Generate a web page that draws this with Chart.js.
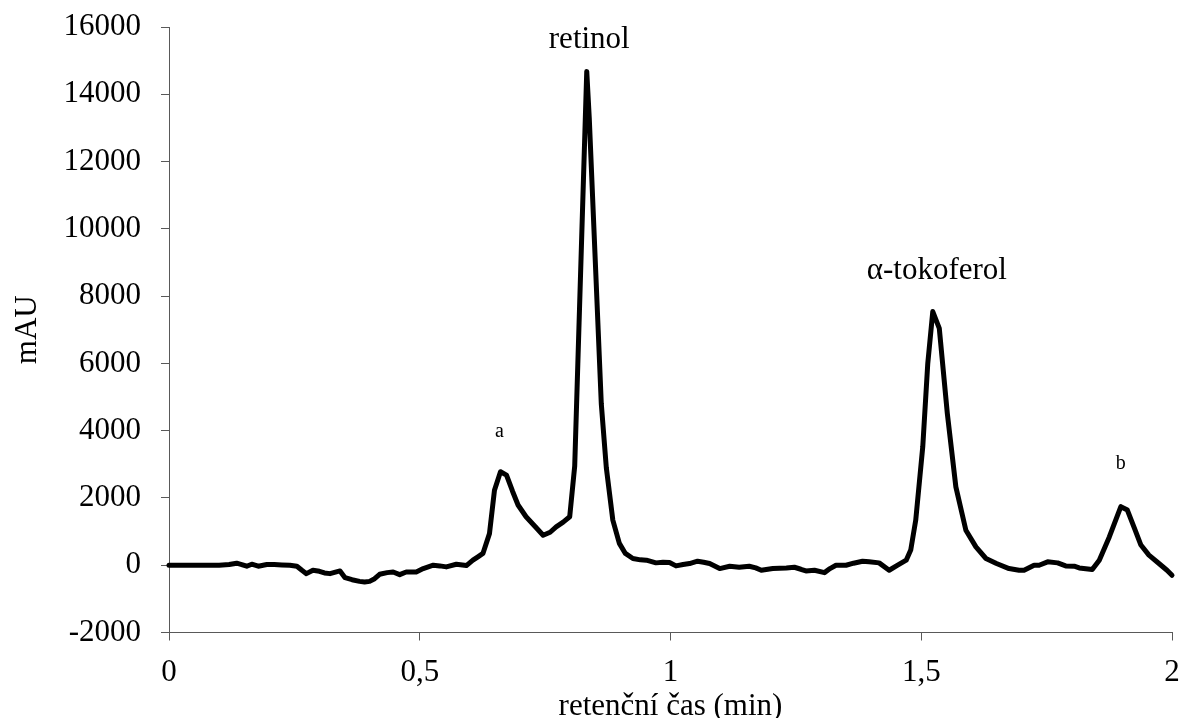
<!DOCTYPE html>
<html>
<head>
<meta charset="utf-8">
<script src="https://cdn.jsdelivr.net/npm/chart.js@4/dist/chart.umd.min.js"></script>
<style>
  html, body { margin: 0; padding: 0; background: #ffffff; }
  #wrap { width: 1183px; height: 718px; }
</style>
</head>
<body>
<div id="wrap"><canvas id="c" width="1183" height="718"></canvas></div>
<script>
// ---- data ----
const retentionTime = [
  0, 0.02, 0.04, 0.06, 0.08, 0.10, 0.12, 0.135, 0.145, 0.155, 0.165, 0.178, 0.195, 0.21, 0.225, 0.241,
  0.255, 0.265, 0.274, 0.287, 0.30, 0.31, 0.321, 0.341, 0.351, 0.365, 0.38, 0.39, 0.40, 0.41, 0.42,
  0.435, 0.447, 0.46, 0.473, 0.493, 0.507, 0.527, 0.54, 0.553, 0.573, 0.593, 0.606, 0.616, 0.626,
  0.639, 0.649, 0.661, 0.673, 0.685, 0.696, 0.712, 0.73, 0.746, 0.76, 0.772, 0.786, 0.799, 0.809,
  0.833, 0.838, 0.862, 0.872, 0.885, 0.898, 0.91, 0.925, 0.94, 0.952, 0.971, 0.985, 0.998, 1.011,
  1.025, 1.038, 1.054, 1.066, 1.078, 1.098, 1.118, 1.137, 1.157, 1.17, 1.181, 1.204, 1.231, 1.247,
  1.26, 1.270, 1.287, 1.307, 1.318, 1.330, 1.35, 1.365, 1.383, 1.396, 1.416, 1.436, 1.453, 1.470,
  1.479, 1.489, 1.503, 1.513, 1.523, 1.536, 1.552, 1.569, 1.589, 1.609, 1.629, 1.65, 1.675, 1.695,
  1.705, 1.725, 1.735, 1.752, 1.772, 1.788, 1.805, 1.815, 1.841, 1.855, 1.875, 1.898, 1.911, 1.925,
  1.938, 1.954, 1.974, 1.99, 2.0
];
const absorbance = [
  0, 0, 0, 0, 0, 0, 20, 60, 20, -30, 30, -30, 20, 20, 10, 0,
  -30, -150, -250, -150, -180, -230, -250, -170, -370, -430, -480, -500, -480, -400, -270,
  -220, -200, -280, -200, -200, -100, 0, -20, -50, 30, -10, 150, 250, 350,
  940, 2230, 2780, 2680, 2200, 1790, 1440, 1150, 890, 980, 1140, 1280, 1440, 2950,
  14680, 13300, 4800, 2900, 1340, 650, 350, 200, 160, 150, 70, 90, 80, -20,
  20, 50, 120, 90, 50, -100, -30, -60, -30, -80, -150, -100, -80, -60,
  -120, -170, -150, -220, -100, 0, 0, 60, 120, 100, 70, -150, 0, 150,
  450, 1340, 3520, 6000, 7540, 7040, 4510, 2330, 1040, 545, 200, 50, -100, -150,
  -150, 0, 0, 100, 70, -20, -30, -80, -130, 150, 840, 1740, 1640, 1100,
  600, 300, 50, -150, -300
];
const xTickValues = [0, 0.5, 1, 1.5, 2];
const xTickLabels = ['0', '0,5', '1', '1,5', '2'];
const yTickValues = [-2000, 0, 2000, 4000, 6000, 8000, 10000, 12000, 14000, 16000];
const yTickLabels = ['-2000', '0', '2000', '4000', '6000', '8000', '10000', '12000', '14000', '16000'];
const peakNames = ['a', 'retinol', 'α-tokoferol', 'b'];
const peakNameTime = [0.659, 0.838, 1.531, 1.898];
const peakNameLevel = [3980, 15630, 8740, 3020];
const peakNameSize = [20, 31, 31, 20];

const FONT = "'Liberation Serif', 'Times New Roman', serif";

const peakLabelPlugin = {
  id: 'peakLabels',
  afterDatasetsDraw(chart) {
    const ctx = chart.ctx;
    const xs = chart.scales.x, ys = chart.scales.y;
    ctx.save();
    ctx.fillStyle = '#000';
    ctx.textAlign = 'center';
    ctx.textBaseline = 'middle';
    peakNames.forEach((name, i) => {
      ctx.font = peakNameSize[i] + 'px ' + FONT;
      ctx.fillText(name, xs.getPixelForValue(peakNameTime[i]), ys.getPixelForValue(peakNameLevel[i]));
    });
    ctx.restore();
  }
};

new Chart(document.getElementById('c'), {
  type: 'line',
  data: {
    datasets: [{
      data: retentionTime.map((t, i) => ({ x: t, y: absorbance[i] })),
      borderColor: '#000',
      borderWidth: 5,
      pointRadius: 0,
      tension: 0,
      borderJoinStyle: 'round',
      borderCapStyle: 'round',
      fill: false,
      clip: false
    }]
  },
  options: {
    responsive: false,
    animation: false,
    events: [],
    layout: { padding: { top: 27, right: 11, bottom: 0, left: 0 } },
    plugins: { legend: { display: false }, tooltip: { enabled: false } },
    scales: {
      x: {
        type: 'linear',
        min: 0, max: 2,
        afterBuildTicks(scale) { scale.ticks = xTickValues.map(v => ({ value: v })); },
        afterFit(scale) {
          scale.height = 85.5;
          scale.paddingLeft = 0; scale.paddingRight = 0;
          scale.paddingTop = 0; scale.paddingBottom = 0;
        },
        ticks: {
          callback: (v) => xTickLabels[xTickValues.indexOf(v)],
          color: '#000',
          font: { family: FONT, size: 31 },
          padding: 14,
          maxRotation: 0,
          autoSkip: false
        },
        grid: { drawOnChartArea: false, drawTicks: true, tickLength: 8, color: '#595959', tickColor: '#595959' },
        border: { display: true, color: '#595959', width: 1 },
        title: {
          display: true,
          text: 'retenční čas (min)',
          color: '#000',
          font: { family: FONT, size: 31, lineHeight: 0.75 },
          padding: { top: 0, bottom: 0 }
        }
      },
      y: {
        type: 'linear',
        min: -2000, max: 16000,
        afterBuildTicks(scale) { scale.ticks = yTickValues.map(v => ({ value: v })); },
        afterFit(scale) {
          scale.width = 169;
          scale.paddingLeft = 0; scale.paddingRight = 0;
          scale.paddingTop = 0; scale.paddingBottom = 0;
        },
        ticks: {
          callback: (v) => yTickLabels[yTickValues.indexOf(v)],
          color: '#000',
          font: { family: FONT, size: 31 },
          padding: 20,
          autoSkip: false
        },
        grid: { drawOnChartArea: false, drawTicks: true, tickLength: 8, color: '#595959', tickColor: '#595959' },
        border: { display: true, color: '#595959', width: 1 },
        title: {
          display: true,
          text: 'mAU',
          color: '#000',
          font: { family: FONT, size: 31, lineHeight: 1.2 },
          padding: { top: 9, bottom: 0 }
        }
      }
    }
  },
  plugins: [peakLabelPlugin]
});
</script>
</body>
</html>
